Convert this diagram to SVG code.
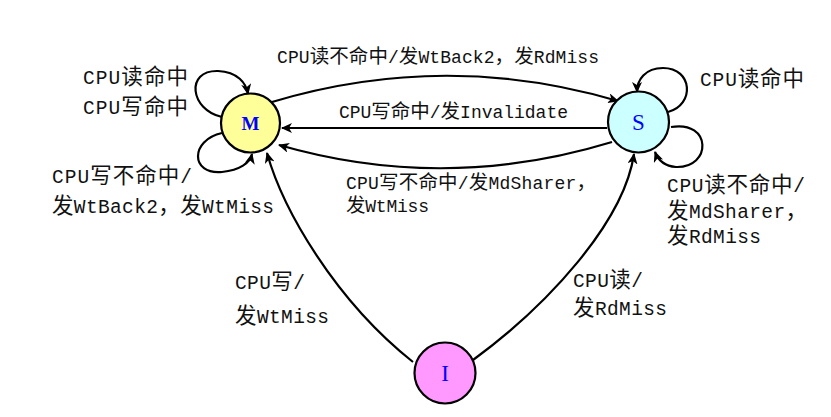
<svg xmlns="http://www.w3.org/2000/svg" width="831" height="417" viewBox="0 0 831 417">
<defs>
<marker id="ah" markerWidth="12" markerHeight="10" refX="10" refY="5" orient="auto" markerUnits="userSpaceOnUse">
<path d="M0,0 L11,5 L0,10 L3,5 Z" fill="#000"/>
</marker>
<style>
.st{stroke:#000;stroke-width:2.2}
.lbl{font-family:"Liberation Mono","Noto Sans CJK SC",monospace;fill:#111}
.mid{font-size:18px}
.out{font-size:19.5px}
.mid .c{font-size:19.5px}
.out .c{font-size:21.5px}
.edge{fill:none;stroke:#000;stroke-width:2.2;marker-end:url(#ah)}
.nl{font-family:"Liberation Serif",serif;fill:#0000ff;text-anchor:middle}
</style>
</defs>
<rect width="831" height="417" fill="#fff"/>
<g id="connectors">
<path class="edge" d="M272 102 Q445 50 618 101"/>
<path class="edge" d="M607 128 L282 128"/>
<path class="edge" d="M612 142 Q445 193 279 145"/>
<path class="edge" d="M413 362 C335 300 283 210 267 153"/>
<path class="edge" d="M473 360 C548 305 624 222 634 154"/>
<path class="edge" d="M222 117 C190 110 185 70 218 71 C238 72 246 83 248 94"/>
<path class="edge" d="M222 133 C190 140 190 175 222 172 C240 170 250 163 252 154"/>
<path class="edge" d="M668 112 C695 105 693 68 663 68 C645 68 637 80 637 92"/>
<path class="edge" d="M671 127 C712 120 712 168 676 167 C665 166 658 160 655 152"/>
</g>
<g id="node-M">
<circle class="st" cx="250.5" cy="123" r="29.5" fill="#ffff99"/>
<text class="nl" x="250.5" y="130" font-size="19" font-weight="bold">M</text>
</g>
<g id="node-S">
<circle class="st" cx="638.5" cy="122" r="30.5" fill="#ccffff"/>
<text class="nl" x="638.5" y="130" font-size="23">S</text>
</g>
<g id="node-I">
<circle class="st" cx="445" cy="373" r="30.5" fill="#ff99ff"/>
<text class="nl" x="445" y="381" font-size="23">I</text>
</g>
<g id="labels">
<text class="lbl mid" x="277" y="63" textLength="322">CPU<tspan class="c">读不命中</tspan>/<tspan class="c">发</tspan>WtBack2<tspan class="c">，发</tspan>RdMiss</text>
<text class="lbl mid" x="339" y="118" textLength="229">CPU<tspan class="c">写命中</tspan>/<tspan class="c">发</tspan>Invalidate</text>
<text class="lbl mid" x="346" y="189" textLength="250">CPU<tspan class="c">写不命中</tspan>/<tspan class="c">发</tspan>MdSharer<tspan class="c">，</tspan></text>
<text class="lbl mid" x="346" y="212" textLength="83"><tspan class="c">发</tspan>WtMiss</text>
<text class="lbl out" x="83" y="84" textLength="105">CPU<tspan class="c">读命中</tspan></text>
<text class="lbl out" x="83" y="114" textLength="105">CPU<tspan class="c">写命中</tspan></text>
<text class="lbl out" x="52" y="183" textLength="140">CPU<tspan class="c">写不命中</tspan>/</text>
<text class="lbl out" x="52" y="213" textLength="222"><tspan class="c">发</tspan>WtBack2<tspan class="c">，发</tspan>WtMiss</text>
<text class="lbl out" x="700" y="86" textLength="104">CPU<tspan class="c">读命中</tspan></text>
<text class="lbl out" x="667" y="192" textLength="138">CPU<tspan class="c">读不命中</tspan>/</text>
<text class="lbl out" x="667" y="218" textLength="140"><tspan class="c">发</tspan>MdSharer<tspan class="c">，</tspan></text>
<text class="lbl out" x="667" y="243" textLength="94"><tspan class="c">发</tspan>RdMiss</text>
<text class="lbl out" x="235" y="289" textLength="70">CPU<tspan class="c">写</tspan>/</text>
<text class="lbl out" x="235" y="323" textLength="94"><tspan class="c">发</tspan>WtMiss</text>
<text class="lbl out" x="573" y="287" textLength="70">CPU<tspan class="c">读</tspan>/</text>
<text class="lbl out" x="573" y="315" textLength="94"><tspan class="c">发</tspan>RdMiss</text>
</g>
</svg>
